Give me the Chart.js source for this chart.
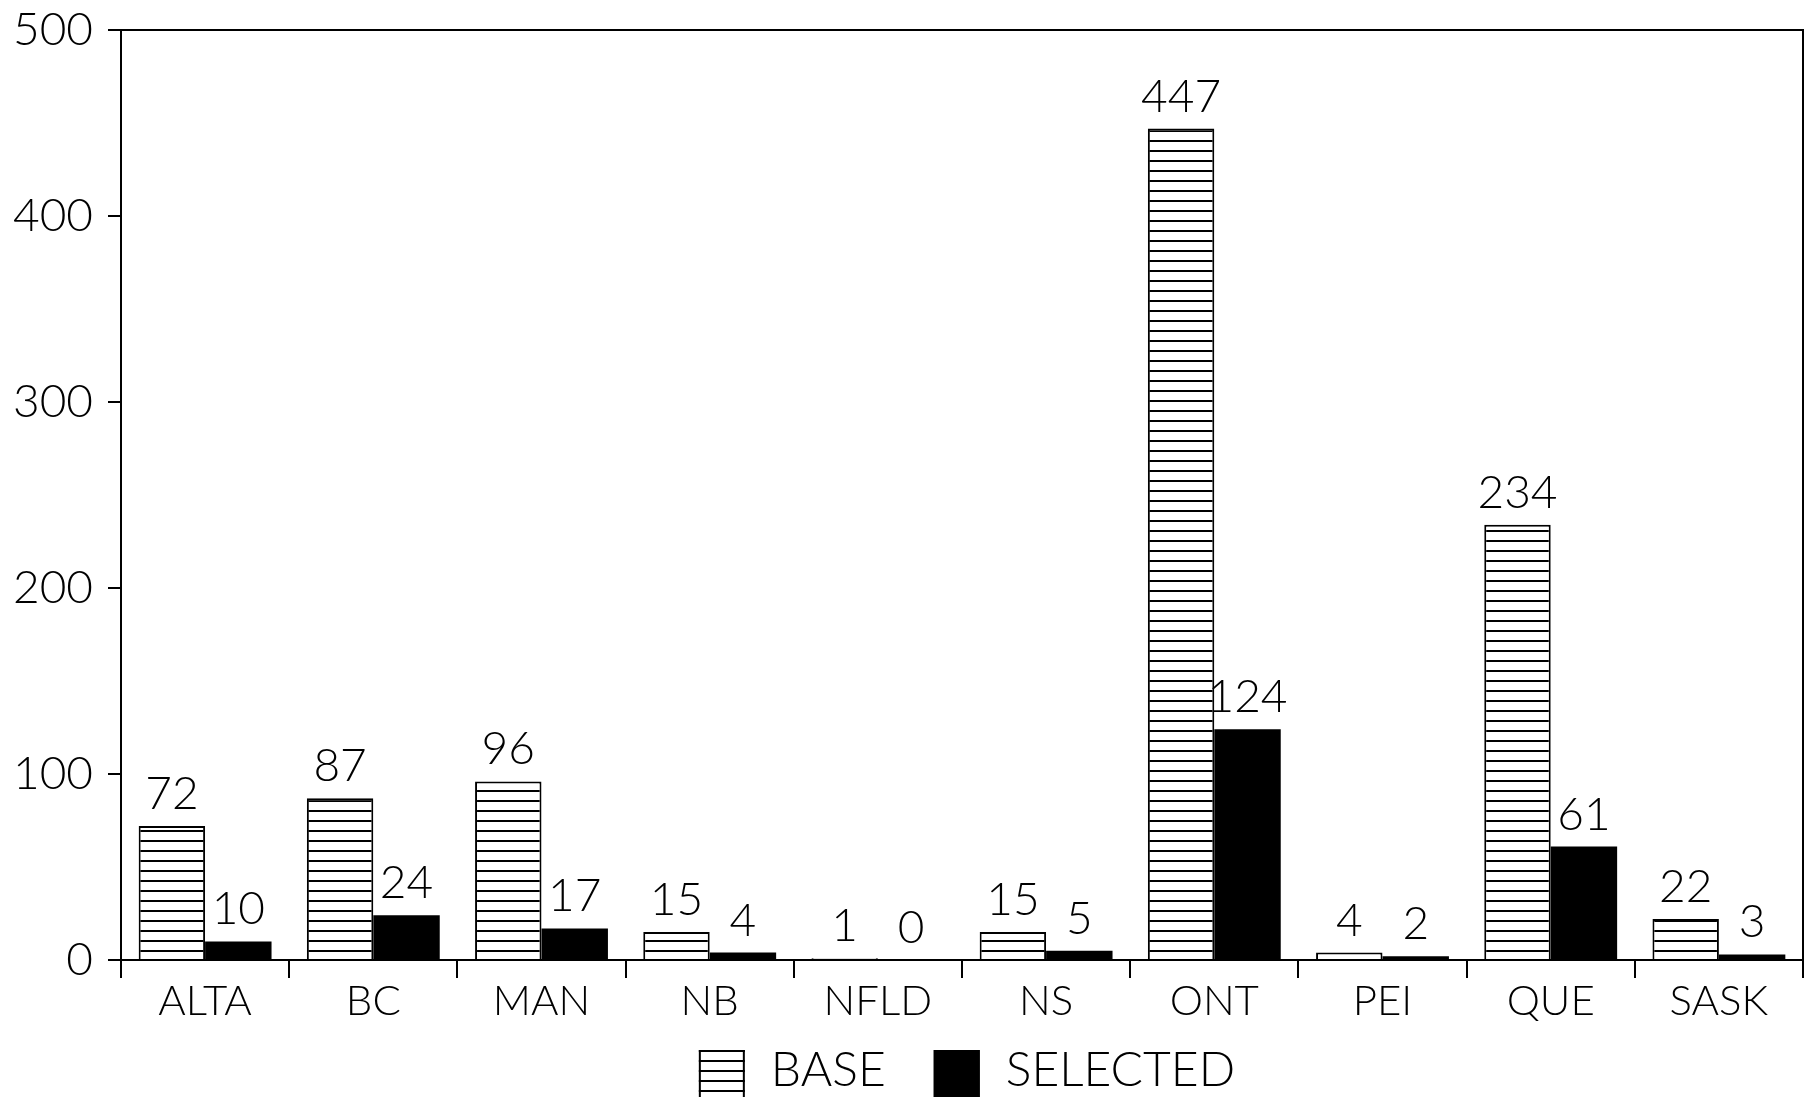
<!DOCTYPE html>
<html>
<head>
<meta charset="utf-8">
<script src="https://cdn.jsdelivr.net/npm/chart.js@4"></script>
<style>
  html, body { margin: 0; padding: 0; background: #fff; }
  #wrap { width: 1808px; height: 1097px; }
</style>
</head>
<body>
<div id="wrap"><canvas id="barChart"></canvas></div>
<script>
// data
const provinces = ['ALTA', 'BC', 'MAN', 'NB', 'NFLD', 'NS', 'ONT', 'PEI', 'QUE', 'SASK'];
const baseValues = [72, 87, 96, 15, 1, 15, 447, 4, 234, 22];
const selectedValues = [10, 24, 17, 4, 0, 5, 124, 2, 61, 3];
const seriesNames = ['BASE', 'SELECTED'];
const yMin = 0;
const yMax = 500;
const yStep = 100;

const FONT = "Lato, 'Liberation Sans', Arial, sans-serif";
const WEIGHT = 300;

// horizontal line fill for BASE
function stripes() {
  const c = document.createElement('canvas');
  c.width = 10;
  c.height = 10;
  const g = c.getContext('2d');
  g.fillStyle = '#fff';
  g.fillRect(0, 0, 10, 10);
  g.fillStyle = '#000';
  g.fillRect(0, 0, 10, 2);
  return g.createPattern(c, 'repeat');
}
const basePattern = stripes();

// numbers on top of the bars
const valueLabels = {
  id: 'valueLabels',
  afterDatasetsDraw(chart) {
    const ctx = chart.ctx;
    ctx.save();
    ctx.font = WEIGHT + ' 46px ' + FONT;
    ctx.fillStyle = '#000';
    ctx.textAlign = 'center';
    ctx.textBaseline = 'alphabetic';
    chart.data.datasets.forEach((ds, i) => {
      chart.getDatasetMeta(i).data.forEach((bar, j) => {
        ctx.fillText(String(ds.data[j]), bar.x, bar.y - 17);
      });
    });
    ctx.restore();
  }
};

// box round the plot
const frame = {
  id: 'frame',
  afterDraw(chart) {
    const a = chart.chartArea;
    const ctx = chart.ctx;
    ctx.save();
    ctx.strokeStyle = '#000';
    ctx.lineWidth = 2;
    ctx.strokeRect(a.left, a.top, a.right - a.left, a.bottom - a.top);
    ctx.restore();
  }
};

// legend under the axis
const bottomLegend = {
  id: 'bottomLegend',
  afterDraw(chart) {
    const ctx = chart.ctx;
    const boxW = 46, boxH = 52, gapText = 26, gapItem = 48;
    const top = chart.chartArea.bottom + 90;
    const base = top + 36;
    ctx.save();
    ctx.font = WEIGHT + ' 48px ' + FONT;
    const widths = seriesNames.map(t => ctx.measureText(t).width);
    const total = boxW * 2 + gapText * 2 + gapItem + widths[0] + widths[1];
    let x = 967 - total / 2;
    seriesNames.forEach((name, i) => {
      const ds = chart.data.datasets[i];
      ctx.fillStyle = ds.backgroundColor;
      ctx.fillRect(x, top, boxW, boxH);
      ctx.strokeStyle = '#000';
      ctx.lineWidth = 2;
      ctx.strokeRect(x + 1, top + 1, boxW - 2, boxH - 2);
      x += boxW + gapText;
      ctx.fillStyle = '#000';
      ctx.textAlign = 'left';
      ctx.textBaseline = 'alphabetic';
      ctx.fillText(name, x, base);
      x += widths[i] + gapItem;
    });
    ctx.restore();
  }
};

const ctx1 = document.getElementById('barChart');
var barChart = new Chart(ctx1, {
  type: 'bar',
  data: {
    labels: provinces,
    datasets: [{
      label: seriesNames[0],
      data: baseValues,
      backgroundColor: basePattern,
      borderColor: '#000',
      borderWidth: 2
    }, {
      label: seriesNames[1],
      data: selectedValues,
      backgroundColor: '#000',
      borderColor: '#000',
      borderWidth: 0
    }]
  },
  options: {
    responsive: true,
    maintainAspectRatio: false,
    animation: false,
    categoryPercentage: 0.79,
    barPercentage: 1.0,
    layout: {
      padding: { top: 0, right: 5, left: 0, bottom: 55 }
    },
    plugins: {
      tooltip: { enabled: false },
      legend: { display: false }
    },
    scales: {
      x: {
        grid: {
          display: true,
          drawOnChartArea: false,
          color: '#000',
          lineWidth: 2,
          tickLength: 18
        },
        border: { display: true, color: '#000', width: 2 },
        ticks: {
          color: '#000',
          font: { family: FONT, size: 42, weight: WEIGHT },
          padding: -2,
          maxRotation: 0
        },
        afterFit(scale) { scale.height = 82; }
      },
      y: {
        min: yMin,
        max: yMax,
        grid: {
          display: true,
          drawOnChartArea: false,
          color: '#000',
          lineWidth: 2,
          tickLength: 13
        },
        border: { display: true, color: '#000', width: 2 },
        ticks: {
          stepSize: yStep,
          color: '#000',
          font: { family: FONT, size: 46, weight: WEIGHT },
          padding: 15
        },
        afterFit(scale) {
          scale.width = 121;
          scale.paddingTop = 30;
        }
      }
    }
  },
  plugins: [valueLabels, frame, bottomLegend]
});
</script>
</body>
</html>
